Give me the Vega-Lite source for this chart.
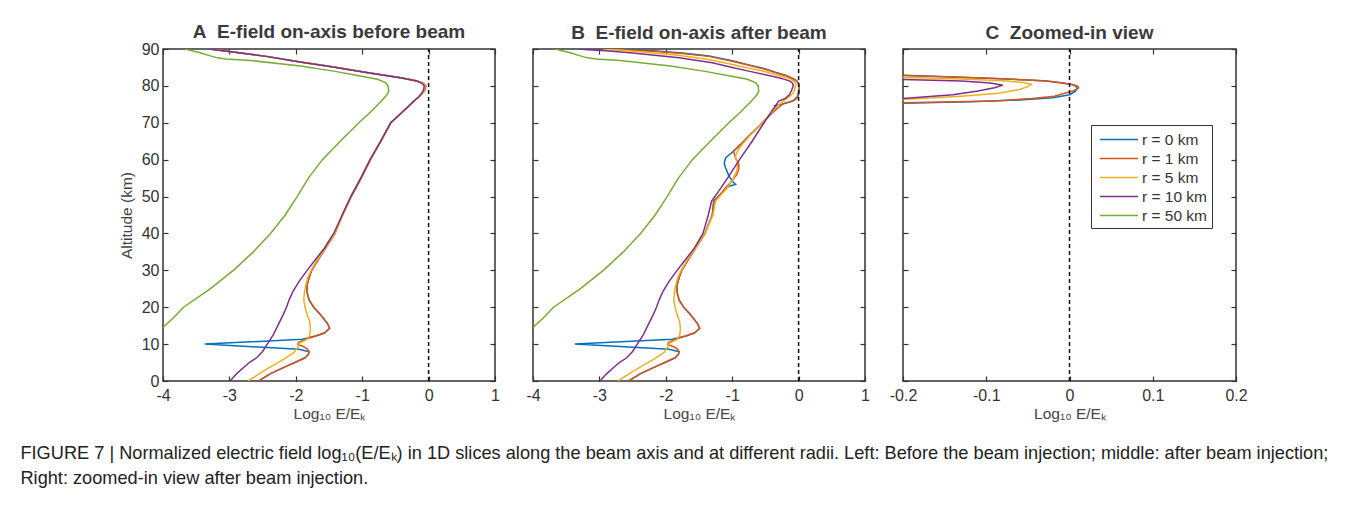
{
  "$schema": "https://vega.github.io/schema/vega-lite/v6.json",
  "background": "white",
  "padding": {"left": 20, "top": 22, "right": 5, "bottom": 5},
  "config": {
    "font": "Liberation Sans",
    "view": {"stroke": "#333", "strokeWidth": 1.5},
    "axis": {"grid": false, "domain": false, "labelFlush": false, "tickSize": -5, "tickColor": "#333", "tickWidth": 1.2, "labelFontSize": 16, "labelColor": "#333", "labelPadding": 9, "titleFontSize": 15.5, "titleFontWeight": "normal", "titleColor": "#444", "labelFont": "Liberation Sans", "titleFont": "Liberation Sans"},
    "axisX": {"labelPadding": 11, "titlePadding": 3},
    "axisY": {"titlePadding": 7},
    "title": {"anchor": "middle", "frame": "group", "fontSize": 19, "fontWeight": "bold", "color": "#3a3a3a", "offset": 5, "font": "Liberation Sans"}
  },
  "datasets": {
    "A": [
      {"r":"r = 0 km","alt":0,"v":-2.56},{"r":"r = 0 km","alt":2,"v":-2.38},{"r":"r = 0 km","alt":4.1,"v":-2.13},{"r":"r = 0 km","alt":5.3,"v":-1.98},{"r":"r = 0 km","alt":6.3,"v":-1.86},{"r":"r = 0 km","alt":7.2,"v":-1.81},{"r":"r = 0 km","alt":7.9,"v":-1.8},{"r":"r = 0 km","alt":8.6,"v":-1.95},{"r":"r = 0 km","alt":10,"v":-3.37},{"r":"r = 0 km","alt":11.3,"v":-1.9},{"r":"r = 0 km","alt":12.2,"v":-1.7},{"r":"r = 0 km","alt":13,"v":-1.57},{"r":"r = 0 km","alt":14.3,"v":-1.49},{"r":"r = 0 km","alt":15.5,"v":-1.52},{"r":"r = 0 km","alt":18,"v":-1.63},{"r":"r = 0 km","alt":20,"v":-1.73},{"r":"r = 0 km","alt":22,"v":-1.8},{"r":"r = 0 km","alt":24,"v":-1.83},{"r":"r = 0 km","alt":26,"v":-1.83},{"r":"r = 0 km","alt":28,"v":-1.8},{"r":"r = 0 km","alt":30,"v":-1.76},{"r":"r = 0 km","alt":33,"v":-1.66},{"r":"r = 0 km","alt":36,"v":-1.55},{"r":"r = 0 km","alt":40,"v":-1.41},{"r":"r = 0 km","alt":45,"v":-1.3},{"r":"r = 0 km","alt":50,"v":-1.17},{"r":"r = 0 km","alt":55,"v":-1.02},{"r":"r = 0 km","alt":60,"v":-0.88},{"r":"r = 0 km","alt":65,"v":-0.72},{"r":"r = 0 km","alt":70,"v":-0.57},{"r":"r = 0 km","alt":72.3,"v":-0.43},{"r":"r = 0 km","alt":74,"v":-0.33},{"r":"r = 0 km","alt":75.9,"v":-0.22},{"r":"r = 0 km","alt":77,"v":-0.15},{"r":"r = 0 km","alt":78.1,"v":-0.09},{"r":"r = 0 km","alt":79,"v":-0.055},{"r":"r = 0 km","alt":80,"v":-0.045},{"r":"r = 0 km","alt":80.7,"v":-0.08},{"r":"r = 0 km","alt":81.3,"v":-0.17},{"r":"r = 0 km","alt":82.2,"v":-0.42},{"r":"r = 0 km","alt":83.6,"v":-0.93},{"r":"r = 0 km","alt":85.1,"v":-1.43},{"r":"r = 0 km","alt":86.5,"v":-1.93},{"r":"r = 0 km","alt":88,"v":-2.44},{"r":"r = 0 km","alt":89.2,"v":-2.94},{"r":"r = 0 km","alt":90,"v":-3.29},

      {"r":"r = 1 km","alt":0,"v":-2.56},{"r":"r = 1 km","alt":2,"v":-2.38},{"r":"r = 1 km","alt":4.1,"v":-2.13},{"r":"r = 1 km","alt":5.3,"v":-1.98},{"r":"r = 1 km","alt":6.3,"v":-1.86},{"r":"r = 1 km","alt":7.2,"v":-1.81},{"r":"r = 1 km","alt":7.9,"v":-1.8},{"r":"r = 1 km","alt":8.6,"v":-1.82},{"r":"r = 1 km","alt":9.3,"v":-1.88},{"r":"r = 1 km","alt":9.9,"v":-1.97},{"r":"r = 1 km","alt":10.4,"v":-1.96},{"r":"r = 1 km","alt":10.8,"v":-1.92},{"r":"r = 1 km","alt":11.5,"v":-1.82},{"r":"r = 1 km","alt":12.2,"v":-1.7},{"r":"r = 1 km","alt":13,"v":-1.57},{"r":"r = 1 km","alt":14.3,"v":-1.49},{"r":"r = 1 km","alt":15.5,"v":-1.52},{"r":"r = 1 km","alt":18,"v":-1.63},{"r":"r = 1 km","alt":20,"v":-1.73},{"r":"r = 1 km","alt":22,"v":-1.8},{"r":"r = 1 km","alt":24,"v":-1.83},{"r":"r = 1 km","alt":26,"v":-1.83},{"r":"r = 1 km","alt":28,"v":-1.8},{"r":"r = 1 km","alt":30,"v":-1.76},{"r":"r = 1 km","alt":33,"v":-1.66},{"r":"r = 1 km","alt":36,"v":-1.55},{"r":"r = 1 km","alt":40,"v":-1.41},{"r":"r = 1 km","alt":45,"v":-1.3},{"r":"r = 1 km","alt":50,"v":-1.17},{"r":"r = 1 km","alt":55,"v":-1.02},{"r":"r = 1 km","alt":60,"v":-0.88},{"r":"r = 1 km","alt":65,"v":-0.72},{"r":"r = 1 km","alt":70,"v":-0.57},{"r":"r = 1 km","alt":72.3,"v":-0.43},{"r":"r = 1 km","alt":74,"v":-0.33},{"r":"r = 1 km","alt":75.9,"v":-0.22},{"r":"r = 1 km","alt":77,"v":-0.15},{"r":"r = 1 km","alt":78.1,"v":-0.09},{"r":"r = 1 km","alt":79,"v":-0.05},{"r":"r = 1 km","alt":80,"v":-0.04},{"r":"r = 1 km","alt":80.7,"v":-0.08},{"r":"r = 1 km","alt":81.3,"v":-0.17},{"r":"r = 1 km","alt":82.2,"v":-0.42},{"r":"r = 1 km","alt":83.6,"v":-0.93},{"r":"r = 1 km","alt":85.1,"v":-1.43},{"r":"r = 1 km","alt":86.5,"v":-1.93},{"r":"r = 1 km","alt":88,"v":-2.44},{"r":"r = 1 km","alt":89.2,"v":-2.94},{"r":"r = 1 km","alt":90,"v":-3.29},

      {"r":"r = 5 km","alt":0,"v":-2.72},{"r":"r = 5 km","alt":2.7,"v":-2.49},{"r":"r = 5 km","alt":5.9,"v":-2.18},{"r":"r = 5 km","alt":7.7,"v":-2.03},{"r":"r = 5 km","alt":9.5,"v":-1.96},{"r":"r = 5 km","alt":10.2,"v":-1.95},{"r":"r = 5 km","alt":11.3,"v":-1.83},{"r":"r = 5 km","alt":12.5,"v":-1.79},{"r":"r = 5 km","alt":14,"v":-1.78},{"r":"r = 5 km","alt":16,"v":-1.79},{"r":"r = 5 km","alt":18,"v":-1.83},{"r":"r = 5 km","alt":20,"v":-1.86},{"r":"r = 5 km","alt":22,"v":-1.88},{"r":"r = 5 km","alt":24,"v":-1.87},{"r":"r = 5 km","alt":26,"v":-1.85},{"r":"r = 5 km","alt":28,"v":-1.82},{"r":"r = 5 km","alt":30,"v":-1.77},{"r":"r = 5 km","alt":33,"v":-1.67},{"r":"r = 5 km","alt":36,"v":-1.55},{"r":"r = 5 km","alt":40,"v":-1.41},{"r":"r = 5 km","alt":45,"v":-1.29},{"r":"r = 5 km","alt":50,"v":-1.16},{"r":"r = 5 km","alt":55,"v":-1.01},{"r":"r = 5 km","alt":60,"v":-0.87},{"r":"r = 5 km","alt":65,"v":-0.72},{"r":"r = 5 km","alt":70,"v":-0.57},{"r":"r = 5 km","alt":72.3,"v":-0.43},{"r":"r = 5 km","alt":74,"v":-0.33},{"r":"r = 5 km","alt":75.9,"v":-0.22},{"r":"r = 5 km","alt":77,"v":-0.15},{"r":"r = 5 km","alt":78.1,"v":-0.09},{"r":"r = 5 km","alt":79,"v":-0.06},{"r":"r = 5 km","alt":80,"v":-0.05},{"r":"r = 5 km","alt":80.7,"v":-0.085},{"r":"r = 5 km","alt":81.3,"v":-0.17},{"r":"r = 5 km","alt":82.2,"v":-0.42},{"r":"r = 5 km","alt":83.6,"v":-0.93},{"r":"r = 5 km","alt":85.1,"v":-1.43},{"r":"r = 5 km","alt":86.5,"v":-1.93},{"r":"r = 5 km","alt":88,"v":-2.44},{"r":"r = 5 km","alt":89.2,"v":-2.94},{"r":"r = 5 km","alt":90,"v":-3.29},

      {"r":"r = 10 km","alt":0,"v":-2.99},{"r":"r = 10 km","alt":2,"v":-2.89},{"r":"r = 10 km","alt":3.6,"v":-2.79},{"r":"r = 10 km","alt":5,"v":-2.7},{"r":"r = 10 km","alt":6.3,"v":-2.59},{"r":"r = 10 km","alt":8,"v":-2.5},{"r":"r = 10 km","alt":10,"v":-2.43},{"r":"r = 10 km","alt":12.5,"v":-2.34},{"r":"r = 10 km","alt":15.4,"v":-2.26},{"r":"r = 10 km","alt":18,"v":-2.19},{"r":"r = 10 km","alt":20,"v":-2.14},{"r":"r = 10 km","alt":22,"v":-2.1},{"r":"r = 10 km","alt":24.4,"v":-2.04},{"r":"r = 10 km","alt":27,"v":-1.95},{"r":"r = 10 km","alt":30,"v":-1.83},{"r":"r = 10 km","alt":33,"v":-1.7},{"r":"r = 10 km","alt":36,"v":-1.57},{"r":"r = 10 km","alt":40,"v":-1.43},{"r":"r = 10 km","alt":45,"v":-1.3},{"r":"r = 10 km","alt":50,"v":-1.17},{"r":"r = 10 km","alt":55,"v":-1.02},{"r":"r = 10 km","alt":60,"v":-0.88},{"r":"r = 10 km","alt":65,"v":-0.72},{"r":"r = 10 km","alt":70,"v":-0.57},{"r":"r = 10 km","alt":72.3,"v":-0.43},{"r":"r = 10 km","alt":74,"v":-0.33},{"r":"r = 10 km","alt":75.9,"v":-0.22},{"r":"r = 10 km","alt":77,"v":-0.15},{"r":"r = 10 km","alt":78.1,"v":-0.1},{"r":"r = 10 km","alt":79,"v":-0.075},{"r":"r = 10 km","alt":80,"v":-0.065},{"r":"r = 10 km","alt":80.7,"v":-0.1},{"r":"r = 10 km","alt":81.3,"v":-0.18},{"r":"r = 10 km","alt":82.2,"v":-0.43},{"r":"r = 10 km","alt":83.6,"v":-0.94},{"r":"r = 10 km","alt":85.1,"v":-1.44},{"r":"r = 10 km","alt":86.5,"v":-1.94},{"r":"r = 10 km","alt":88,"v":-2.45},{"r":"r = 10 km","alt":89.2,"v":-2.95},{"r":"r = 10 km","alt":90,"v":-3.3},

      {"r":"r = 50 km","alt":14.5,"v":-4.0},{"r":"r = 50 km","alt":17,"v":-3.85},{"r":"r = 50 km","alt":20,"v":-3.69},{"r":"r = 50 km","alt":25,"v":-3.29},{"r":"r = 50 km","alt":30,"v":-2.94},{"r":"r = 50 km","alt":35,"v":-2.64},{"r":"r = 50 km","alt":40,"v":-2.38},{"r":"r = 50 km","alt":45,"v":-2.16},{"r":"r = 50 km","alt":50,"v":-1.98},{"r":"r = 50 km","alt":55,"v":-1.81},{"r":"r = 50 km","alt":60,"v":-1.6},{"r":"r = 50 km","alt":65,"v":-1.33},{"r":"r = 50 km","alt":70,"v":-1.05},{"r":"r = 50 km","alt":73,"v":-0.87},{"r":"r = 50 km","alt":75.9,"v":-0.71},{"r":"r = 50 km","alt":77.5,"v":-0.63},{"r":"r = 50 km","alt":78.6,"v":-0.6},{"r":"r = 50 km","alt":80,"v":-0.61},{"r":"r = 50 km","alt":80.9,"v":-0.65},{"r":"r = 50 km","alt":81.8,"v":-0.77},{"r":"r = 50 km","alt":82.7,"v":-1.03},{"r":"r = 50 km","alt":84,"v":-1.43},{"r":"r = 50 km","alt":85.4,"v":-1.93},{"r":"r = 50 km","alt":86.9,"v":-2.69},{"r":"r = 50 km","alt":87.3,"v":-3.05},{"r":"r = 50 km","alt":87.6,"v":-3.18},{"r":"r = 50 km","alt":88.2,"v":-3.3},{"r":"r = 50 km","alt":89,"v":-3.44},{"r":"r = 50 km","alt":90,"v":-3.67}
    ],
    "B": [
      {"r":"r = 0 km","alt":0,"v":-2.56},{"r":"r = 0 km","alt":2,"v":-2.38},{"r":"r = 0 km","alt":4.1,"v":-2.13},{"r":"r = 0 km","alt":5.3,"v":-1.98},{"r":"r = 0 km","alt":6.3,"v":-1.86},{"r":"r = 0 km","alt":7.2,"v":-1.81},{"r":"r = 0 km","alt":7.9,"v":-1.8},{"r":"r = 0 km","alt":8.6,"v":-1.95},{"r":"r = 0 km","alt":10,"v":-3.37},{"r":"r = 0 km","alt":11.3,"v":-1.9},{"r":"r = 0 km","alt":12.2,"v":-1.7},{"r":"r = 0 km","alt":13,"v":-1.57},{"r":"r = 0 km","alt":14.3,"v":-1.49},{"r":"r = 0 km","alt":15.5,"v":-1.52},{"r":"r = 0 km","alt":18,"v":-1.63},{"r":"r = 0 km","alt":20,"v":-1.73},{"r":"r = 0 km","alt":22,"v":-1.8},{"r":"r = 0 km","alt":24,"v":-1.83},{"r":"r = 0 km","alt":26,"v":-1.83},{"r":"r = 0 km","alt":28,"v":-1.8},{"r":"r = 0 km","alt":30,"v":-1.76},{"r":"r = 0 km","alt":33,"v":-1.66},{"r":"r = 0 km","alt":36,"v":-1.55},{"r":"r = 0 km","alt":40,"v":-1.41},
      {"r":"r = 0 km","alt":45,"v":-1.3},{"r":"r = 0 km","alt":48.8,"v":-1.28},{"r":"r = 0 km","alt":50.6,"v":-1.18},{"r":"r = 0 km","alt":51.5,"v":-1.13},{"r":"r = 0 km","alt":52.8,"v":-1.05},{"r":"r = 0 km","alt":53.3,"v":-0.95},{"r":"r = 0 km","alt":54,"v":-0.99},{"r":"r = 0 km","alt":55.6,"v":-1.05},{"r":"r = 0 km","alt":57.8,"v":-1.1},{"r":"r = 0 km","alt":59,"v":-1.12},{"r":"r = 0 km","alt":60.5,"v":-1.1},{"r":"r = 0 km","alt":62,"v":-1.0},{"r":"r = 0 km","alt":64,"v":-0.88},{"r":"r = 0 km","alt":66.4,"v":-0.75},{"r":"r = 0 km","alt":69,"v":-0.6},{"r":"r = 0 km","alt":72.3,"v":-0.42},{"r":"r = 0 km","alt":74,"v":-0.33},{"r":"r = 0 km","alt":74.6,"v":-0.36},{"r":"r = 0 km","alt":75,"v":-0.25},{"r":"r = 0 km","alt":75.3,"v":-0.2},{"r":"r = 0 km","alt":75.7,"v":-0.12},{"r":"r = 0 km","alt":76.2,"v":-0.06},{"r":"r = 0 km","alt":76.8,"v":-0.02},{"r":"r = 0 km","alt":77.6,"v":0.0},{"r":"r = 0 km","alt":78.5,"v":0.007},{"r":"r = 0 km","alt":79.3,"v":0.009},{"r":"r = 0 km","alt":79.9,"v":0.008},{"r":"r = 0 km","alt":80.3,"v":0.004},{"r":"r = 0 km","alt":80.8,"v":-0.009},{"r":"r = 0 km","alt":81.3,"v":-0.028},{"r":"r = 0 km","alt":81.6,"v":-0.05},{"r":"r = 0 km","alt":82,"v":-0.09},{"r":"r = 0 km","alt":82.4,"v":-0.14},{"r":"r = 0 km","alt":82.9,"v":-0.2},{"r":"r = 0 km","alt":83.2,"v":-0.26},{"r":"r = 0 km","alt":83.7,"v":-0.35},{"r":"r = 0 km","alt":84.6,"v":-0.5},{"r":"r = 0 km","alt":85.7,"v":-0.75},{"r":"r = 0 km","alt":86.8,"v":-1.0},{"r":"r = 0 km","alt":88.1,"v":-1.35},{"r":"r = 0 km","alt":88.9,"v":-1.75},{"r":"r = 0 km","alt":89.5,"v":-2.2},{"r":"r = 0 km","alt":89.8,"v":-2.6},{"r":"r = 0 km","alt":90,"v":-2.9},

      {"r":"r = 1 km","alt":0,"v":-2.56},{"r":"r = 1 km","alt":2,"v":-2.38},{"r":"r = 1 km","alt":4.1,"v":-2.13},{"r":"r = 1 km","alt":5.3,"v":-1.98},{"r":"r = 1 km","alt":6.3,"v":-1.86},{"r":"r = 1 km","alt":7.2,"v":-1.81},{"r":"r = 1 km","alt":7.9,"v":-1.8},{"r":"r = 1 km","alt":8.6,"v":-1.82},{"r":"r = 1 km","alt":9.3,"v":-1.88},{"r":"r = 1 km","alt":9.9,"v":-1.97},{"r":"r = 1 km","alt":10.4,"v":-1.96},{"r":"r = 1 km","alt":10.8,"v":-1.92},{"r":"r = 1 km","alt":11.5,"v":-1.82},{"r":"r = 1 km","alt":12.2,"v":-1.7},{"r":"r = 1 km","alt":13,"v":-1.57},{"r":"r = 1 km","alt":14.3,"v":-1.49},{"r":"r = 1 km","alt":15.5,"v":-1.52},{"r":"r = 1 km","alt":18,"v":-1.63},{"r":"r = 1 km","alt":20,"v":-1.73},{"r":"r = 1 km","alt":22,"v":-1.8},{"r":"r = 1 km","alt":24,"v":-1.83},{"r":"r = 1 km","alt":26,"v":-1.83},{"r":"r = 1 km","alt":28,"v":-1.8},{"r":"r = 1 km","alt":30,"v":-1.76},{"r":"r = 1 km","alt":33,"v":-1.66},{"r":"r = 1 km","alt":36,"v":-1.55},{"r":"r = 1 km","alt":40,"v":-1.41},
      {"r":"r = 1 km","alt":45,"v":-1.3},{"r":"r = 1 km","alt":48.8,"v":-1.27},{"r":"r = 1 km","alt":50.5,"v":-1.18},{"r":"r = 1 km","alt":52.4,"v":-1.1},{"r":"r = 1 km","alt":53.7,"v":-1.03},{"r":"r = 1 km","alt":55,"v":-0.97},{"r":"r = 1 km","alt":56,"v":-0.93},{"r":"r = 1 km","alt":57.5,"v":-0.9},{"r":"r = 1 km","alt":58.7,"v":-0.9},{"r":"r = 1 km","alt":60.5,"v":-0.95},{"r":"r = 1 km","alt":62.3,"v":-0.98},{"r":"r = 1 km","alt":64,"v":-0.88},{"r":"r = 1 km","alt":66.4,"v":-0.75},{"r":"r = 1 km","alt":69,"v":-0.6},{"r":"r = 1 km","alt":72.3,"v":-0.42},{"r":"r = 1 km","alt":74,"v":-0.31},{"r":"r = 1 km","alt":75.1,"v":-0.24},{"r":"r = 1 km","alt":75.4,"v":-0.2},{"r":"r = 1 km","alt":75.6,"v":-0.15},{"r":"r = 1 km","alt":75.9,"v":-0.09},{"r":"r = 1 km","alt":76.6,"v":-0.045},{"r":"r = 1 km","alt":77.2,"v":-0.018},{"r":"r = 1 km","alt":78,"v":-0.006},{"r":"r = 1 km","alt":78.6,"v":0.004},{"r":"r = 1 km","alt":79.1,"v":0.009},{"r":"r = 1 km","alt":79.5,"v":0.011},{"r":"r = 1 km","alt":79.9,"v":0.01},{"r":"r = 1 km","alt":80.3,"v":0.005},{"r":"r = 1 km","alt":80.8,"v":-0.008},{"r":"r = 1 km","alt":81.3,"v":-0.027},{"r":"r = 1 km","alt":81.6,"v":-0.05},{"r":"r = 1 km","alt":82,"v":-0.09},{"r":"r = 1 km","alt":82.4,"v":-0.14},{"r":"r = 1 km","alt":82.84,"v":-0.2},{"r":"r = 1 km","alt":83.1,"v":-0.26},{"r":"r = 1 km","alt":83.6,"v":-0.35},{"r":"r = 1 km","alt":84.5,"v":-0.5},{"r":"r = 1 km","alt":85.6,"v":-0.75},{"r":"r = 1 km","alt":86.7,"v":-1.0},{"r":"r = 1 km","alt":88,"v":-1.35},{"r":"r = 1 km","alt":88.8,"v":-1.75},{"r":"r = 1 km","alt":89.4,"v":-2.2},{"r":"r = 1 km","alt":89.7,"v":-2.6},{"r":"r = 1 km","alt":90,"v":-2.95},

      {"r":"r = 5 km","alt":0,"v":-2.72},{"r":"r = 5 km","alt":2.7,"v":-2.49},{"r":"r = 5 km","alt":5.9,"v":-2.18},{"r":"r = 5 km","alt":7.7,"v":-2.03},{"r":"r = 5 km","alt":9.5,"v":-1.96},{"r":"r = 5 km","alt":10.2,"v":-1.95},{"r":"r = 5 km","alt":11.3,"v":-1.83},{"r":"r = 5 km","alt":12.5,"v":-1.79},{"r":"r = 5 km","alt":14,"v":-1.78},{"r":"r = 5 km","alt":16,"v":-1.79},{"r":"r = 5 km","alt":18,"v":-1.83},{"r":"r = 5 km","alt":20,"v":-1.86},{"r":"r = 5 km","alt":22,"v":-1.88},{"r":"r = 5 km","alt":24,"v":-1.87},{"r":"r = 5 km","alt":26,"v":-1.85},{"r":"r = 5 km","alt":28,"v":-1.82},{"r":"r = 5 km","alt":30,"v":-1.77},{"r":"r = 5 km","alt":33,"v":-1.67},{"r":"r = 5 km","alt":36,"v":-1.55},{"r":"r = 5 km","alt":40,"v":-1.41},
      {"r":"r = 5 km","alt":45,"v":-1.29},{"r":"r = 5 km","alt":48.8,"v":-1.25},{"r":"r = 5 km","alt":51,"v":-1.14},{"r":"r = 5 km","alt":53,"v":-1.05},{"r":"r = 5 km","alt":55,"v":-0.98},{"r":"r = 5 km","alt":57,"v":-0.93},{"r":"r = 5 km","alt":59,"v":-0.92},{"r":"r = 5 km","alt":61,"v":-0.95},{"r":"r = 5 km","alt":63,"v":-0.9},{"r":"r = 5 km","alt":66.4,"v":-0.74},{"r":"r = 5 km","alt":69,"v":-0.6},{"r":"r = 5 km","alt":72.3,"v":-0.43},{"r":"r = 5 km","alt":74.5,"v":-0.32},{"r":"r = 5 km","alt":75.5,"v":-0.26},{"r":"r = 5 km","alt":76.3,"v":-0.2},{"r":"r = 5 km","alt":77.2,"v":-0.13},{"r":"r = 5 km","alt":78,"v":-0.085},{"r":"r = 5 km","alt":79,"v":-0.06},{"r":"r = 5 km","alt":79.8,"v":-0.05},{"r":"r = 5 km","alt":80.4,"v":-0.046},{"r":"r = 5 km","alt":80.9,"v":-0.055},{"r":"r = 5 km","alt":81.4,"v":-0.08},{"r":"r = 5 km","alt":81.9,"v":-0.13},{"r":"r = 5 km","alt":82.3,"v":-0.2},{"r":"r = 5 km","alt":82.7,"v":-0.28},{"r":"r = 5 km","alt":83.5,"v":-0.43},{"r":"r = 5 km","alt":84.2,"v":-0.58},{"r":"r = 5 km","alt":85.2,"v":-0.85},{"r":"r = 5 km","alt":86.2,"v":-1.1},{"r":"r = 5 km","alt":87.3,"v":-1.4},{"r":"r = 5 km","alt":88.4,"v":-1.85},{"r":"r = 5 km","alt":89.2,"v":-2.35},{"r":"r = 5 km","alt":89.7,"v":-2.7},{"r":"r = 5 km","alt":90,"v":-2.95},

      {"r":"r = 10 km","alt":0,"v":-2.99},{"r":"r = 10 km","alt":2,"v":-2.89},{"r":"r = 10 km","alt":3.6,"v":-2.79},{"r":"r = 10 km","alt":5,"v":-2.7},{"r":"r = 10 km","alt":6.3,"v":-2.59},{"r":"r = 10 km","alt":8,"v":-2.5},{"r":"r = 10 km","alt":10,"v":-2.43},{"r":"r = 10 km","alt":12.5,"v":-2.34},{"r":"r = 10 km","alt":15.4,"v":-2.26},{"r":"r = 10 km","alt":18,"v":-2.19},{"r":"r = 10 km","alt":20,"v":-2.14},{"r":"r = 10 km","alt":22,"v":-2.1},{"r":"r = 10 km","alt":24.4,"v":-2.04},{"r":"r = 10 km","alt":27,"v":-1.95},{"r":"r = 10 km","alt":30,"v":-1.83},{"r":"r = 10 km","alt":33,"v":-1.7},{"r":"r = 10 km","alt":36,"v":-1.57},
      {"r":"r = 10 km","alt":40,"v":-1.44},{"r":"r = 10 km","alt":45,"v":-1.36},{"r":"r = 10 km","alt":48.8,"v":-1.31},{"r":"r = 10 km","alt":50,"v":-1.26},{"r":"r = 10 km","alt":55,"v":-1.07},{"r":"r = 10 km","alt":60,"v":-0.89},{"r":"r = 10 km","alt":65,"v":-0.7},{"r":"r = 10 km","alt":70,"v":-0.52},{"r":"r = 10 km","alt":73,"v":-0.41},{"r":"r = 10 km","alt":75.9,"v":-0.3},{"r":"r = 10 km","alt":76.6,"v":-0.2},{"r":"r = 10 km","alt":77.6,"v":-0.14},{"r":"r = 10 km","alt":78.6,"v":-0.11},{"r":"r = 10 km","alt":79.5,"v":-0.09},{"r":"r = 10 km","alt":80.2,"v":-0.08},{"r":"r = 10 km","alt":80.8,"v":-0.095},{"r":"r = 10 km","alt":81.3,"v":-0.13},{"r":"r = 10 km","alt":81.7,"v":-0.2},{"r":"r = 10 km","alt":82.2,"v":-0.3},{"r":"r = 10 km","alt":83,"v":-0.5},{"r":"r = 10 km","alt":84,"v":-0.75},{"r":"r = 10 km","alt":85,"v":-1.0},{"r":"r = 10 km","alt":86.3,"v":-1.3},{"r":"r = 10 km","alt":87.6,"v":-1.8},{"r":"r = 10 km","alt":88.9,"v":-2.5},{"r":"r = 10 km","alt":89.5,"v":-2.9},{"r":"r = 10 km","alt":89.8,"v":-3.18},{"r":"r = 10 km","alt":90,"v":-3.3},

      {"r":"r = 50 km","alt":14.5,"v":-4.0},{"r":"r = 50 km","alt":17,"v":-3.85},{"r":"r = 50 km","alt":20,"v":-3.69},{"r":"r = 50 km","alt":25,"v":-3.29},{"r":"r = 50 km","alt":30,"v":-2.94},{"r":"r = 50 km","alt":35,"v":-2.64},{"r":"r = 50 km","alt":40,"v":-2.38},{"r":"r = 50 km","alt":45,"v":-2.16},{"r":"r = 50 km","alt":50,"v":-1.98},{"r":"r = 50 km","alt":55,"v":-1.81},{"r":"r = 50 km","alt":60,"v":-1.6},{"r":"r = 50 km","alt":65,"v":-1.33},{"r":"r = 50 km","alt":70,"v":-1.05},{"r":"r = 50 km","alt":73,"v":-0.87},{"r":"r = 50 km","alt":75.9,"v":-0.71},{"r":"r = 50 km","alt":77.5,"v":-0.63},{"r":"r = 50 km","alt":78.6,"v":-0.6},{"r":"r = 50 km","alt":80,"v":-0.61},{"r":"r = 50 km","alt":80.9,"v":-0.65},{"r":"r = 50 km","alt":81.8,"v":-0.77},{"r":"r = 50 km","alt":82.7,"v":-1.03},{"r":"r = 50 km","alt":84,"v":-1.43},{"r":"r = 50 km","alt":85.4,"v":-1.93},{"r":"r = 50 km","alt":86.9,"v":-2.69},{"r":"r = 50 km","alt":87.3,"v":-3.05},{"r":"r = 50 km","alt":87.6,"v":-3.18},{"r":"r = 50 km","alt":88.2,"v":-3.3},{"r":"r = 50 km","alt":89,"v":-3.44},{"r":"r = 50 km","alt":90,"v":-3.67}
    ]
  },
  "title": {
    "text": ["FIGURE 7 | Normalized electric field log₁₀(E/Eₖ) in 1D slices along the beam axis and at different radii. Left: Before the beam injection; middle: after beam injection;", "Right: zoomed-in view after beam injection."],
    "orient": "bottom", "anchor": "start", "frame": "bounds", "fontSize": 18.2, "fontWeight": "normal", "color": "#222", "lineHeight": 25, "offset": 23, "dx": -98
  },
  "spacing": 38,
  "bounds": "flush",
  "resolve": {"scale": {"color": "independent"}, "legend": {"color": "independent"}},
  "hconcat": [
    {
      "width": 332, "height": 332,
      "title": {"text": "A\u00a0\u00a0E-field on-axis before beam", "offset": -1},
      "data": {"name": "A"},
      "resolve": {"axis": {"x": "independent", "y": "independent"}},
      "layer": [
        {
          "mark": {"type": "line", "strokeWidth": 1.5, "clip": true},
          "encoding": {
            "x": {"field": "v", "type": "quantitative", "scale": {"domain": [-4, 1], "nice": false, "zero": false}, "axis": {"values": [-4, -3, -2, -1, 0, 1], "title": "Log₁₀ E/Eₖ", "labelExpr": "replace(format(datum.value, '~g'), '−', '-')"}},
            "y": {"field": "alt", "type": "quantitative", "scale": {"domain": [0, 90], "nice": false}, "axis": {"values": [0, 10, 20, 30, 40, 50, 60, 70, 80, 90], "title": "Altitude (km)"}},
            "color": {"field": "r", "type": "nominal", "scale": {"domain": ["r = 0 km", "r = 1 km", "r = 5 km", "r = 10 km", "r = 50 km"], "range": ["#0072BD", "#D95319", "#EDB120", "#7E2F8E", "#77AC30"]}, "legend": null},
            "order": {"field": "alt", "type": "quantitative"}
          }
        },
        {
          "data": {"values": [{}]},
          "mark": {"type": "rule", "strokeDash": [4, 3], "strokeWidth": 1.5, "color": "#111"},
          "encoding": {
            "x": {"datum": 0, "type": "quantitative", "axis": {"orient": "top", "labels": false, "title": null, "values": [-4, -3, -2, -1, 0, 1]}},
            "y": {"datum": 0, "type": "quantitative", "axis": {"orient": "right", "labels": false, "title": null, "values": [0, 10, 20, 30, 40, 50, 60, 70, 80, 90]}},
            "y2": {"datum": 90}
          }
        }
      ]
    },
    {
      "width": 332, "height": 332,
      "title": "B\u00a0\u00a0E-field on-axis after beam",
      "data": {"name": "B"},
      "resolve": {"axis": {"x": "independent", "y": "independent"}},
      "layer": [
        {
          "mark": {"type": "line", "strokeWidth": 1.5, "clip": true},
          "encoding": {
            "x": {"field": "v", "type": "quantitative", "scale": {"domain": [-4, 1], "nice": false, "zero": false}, "axis": {"values": [-4, -3, -2, -1, 0, 1], "title": "Log₁₀ E/Eₖ", "labelExpr": "replace(format(datum.value, '~g'), '−', '-')"}},
            "y": {"field": "alt", "type": "quantitative", "scale": {"domain": [0, 90], "nice": false}, "axis": {"values": [0, 10, 20, 30, 40, 50, 60, 70, 80, 90], "labels": false, "title": null}},
            "color": {"field": "r", "type": "nominal", "scale": {"domain": ["r = 0 km", "r = 1 km", "r = 5 km", "r = 10 km", "r = 50 km"], "range": ["#0072BD", "#D95319", "#EDB120", "#7E2F8E", "#77AC30"]}, "legend": null},
            "order": {"field": "alt", "type": "quantitative"}
          }
        },
        {
          "data": {"values": [{}]},
          "mark": {"type": "rule", "strokeDash": [4, 3], "strokeWidth": 1.5, "color": "#111"},
          "encoding": {
            "x": {"datum": 0, "type": "quantitative", "axis": {"orient": "top", "labels": false, "title": null, "values": [-4, -3, -2, -1, 0, 1]}},
            "y": {"datum": 0, "type": "quantitative", "axis": {"orient": "right", "labels": false, "title": null, "values": [0, 10, 20, 30, 40, 50, 60, 70, 80, 90]}},
            "y2": {"datum": 90}
          }
        }
      ]
    },
    {
      "width": 333, "height": 332,
      "title": "C\u00a0\u00a0Zoomed-in view",
      "data": {"name": "B"},
      "resolve": {"axis": {"x": "independent", "y": "independent"}},
      "layer": [
        {
          "mark": {"type": "line", "strokeWidth": 1.5, "clip": true},
          "encoding": {
            "x": {"field": "v", "type": "quantitative", "scale": {"domain": [-0.2, 0.2], "nice": false, "zero": false}, "axis": {"values": [-0.2, -0.1, 0, 0.1, 0.2], "title": "Log₁₀ E/Eₖ", "labelExpr": "replace(format(datum.value, '~g'), '−', '-')"}},
            "y": {"field": "alt", "type": "quantitative", "scale": {"domain": [0, 90], "nice": false}, "axis": {"values": [0, 10, 20, 30, 40, 50, 60, 70, 80, 90], "labels": false, "title": null}},
            "color": {"field": "r", "type": "nominal", "scale": {"domain": ["r = 0 km", "r = 1 km", "r = 5 km", "r = 10 km", "r = 50 km"], "range": ["#0072BD", "#D95319", "#EDB120", "#7E2F8E", "#77AC30"]},
              "legend": {"orient": "none", "legendX": 188, "legendY": 76, "title": null, "symbolType": "M-1,0H3", "symbolSize": 361, "symbolStrokeWidth": 1.5, "symbolOffset": 4, "labelFontSize": 15.5, "labelColor": "#333", "labelFont": "Liberation Sans", "strokeColor": "#333", "fillColor": "white", "padding": 4, "rowPadding": 0, "labelOffset": 22}},
            "order": {"field": "alt", "type": "quantitative"}
          }
        },
        {
          "data": {"values": [{}]},
          "mark": {"type": "rule", "strokeDash": [4, 3], "strokeWidth": 1.5, "color": "#111"},
          "encoding": {
            "x": {"datum": 0, "type": "quantitative", "axis": {"orient": "top", "labels": false, "title": null, "values": [-0.2, -0.1, 0, 0.1, 0.2]}},
            "y": {"datum": 0, "type": "quantitative", "axis": {"orient": "right", "labels": false, "title": null, "values": [0, 10, 20, 30, 40, 50, 60, 70, 80, 90]}},
            "y2": {"datum": 90}
          }
        }
      ]
    }
  ]
}
